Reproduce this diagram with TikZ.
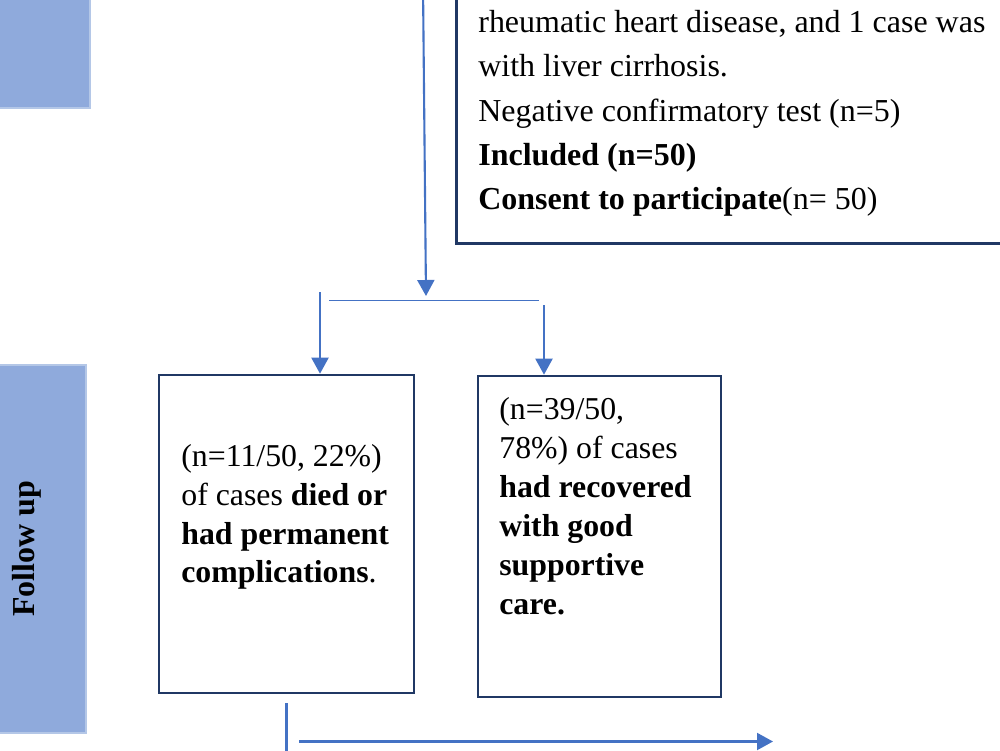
\documentclass[tikz,border=0pt]{standalone}
\usepackage{fontspec}
\setmainfont{Liberation Serif}
\usetikzlibrary{arrows.meta}
\definecolor{navy}{HTML}{203864}
\definecolor{flowblue}{HTML}{4472C4}
\definecolor{barfill}{HTML}{8FAADC}
\definecolor{baredge}{HTML}{B4C7E7}
\begin{document}
\begin{tikzpicture}[>={Triangle[width=0.34cm,length=0.32cm]},
        outbox/.style={draw=navy, line width=1.5pt, inner sep=0pt},
        stagebar/.style={fill=barfill, draw=baredge, line width=1.2pt},
        flow/.style={->, draw=flowblue, line width=1.2pt},
        joint/.style={draw=flowblue, line width=0.8pt},
        boxtxt/.style={anchor=north west, inner sep=0pt, align=left, font=\fontsize{18.1}{22.1}\selectfont}]
        \useasboundingbox (0,0) rectangle (20,-15);
        \clip (0,0) rectangle (20,-15);
        % stage bars on the left
        \node (stagetop) [stagebar, anchor=north east, minimum width=2.4cm, minimum height=2.8cm] at (1.82,0.66) {};
        \node (stagefup) [stagebar, rotate=90, minimum width=7.36cm, minimum height=2.36cm, font=\fontsize{18.2}{21}\selectfont\bfseries] at (0.54,-10.98) {Follow up};
        % boxes
        \node (incl) [outbox, anchor=south west, minimum width=12cm, minimum height=6cm] at (9.1,-4.9) {};
        \node (died) [outbox, minimum width=5.1cm, minimum height=6.36cm] at (5.73,-10.68) {};
        \node (rec) [outbox, minimum width=4.86cm, minimum height=6.42cm] at (11.99,-10.73) {};
        \node (incltxt) [boxtxt, font=\fontsize{18.2}{25.2}\selectfont] at (9.56,-0.2) {rheumatic heart disease, and 1 case was\\ with liver cirrhosis.\\ Negative confirmatory test (n=5)\\ \textbf{Included (n=50)}\\ \textbf{Consent to participate}(n= 50)};
        \node (diedtxt) [boxtxt] at (3.62,-8.88) {(n=11/50, 22\%)\\ of cases \textbf{died or}\\ \textbf{had permanent}\\ \textbf{complications}.};
        \node (rectxt) [boxtxt] at (9.98,-7.95) {(n=39/50,\\ 78\%) of cases\\ \textbf{had recovered}\\ \textbf{with good}\\ \textbf{supportive}\\ \textbf{care.}};
        % connectors
        \coordinate (topin) at (8.46,0.3); \coordinate (split) at (8.52,-5.92);
        \coordinate (jl) at (6.58,-6.01); \coordinate (jr) at (10.78,-6.01);
        \coordinate (la) at (6.4,-5.84); \coordinate (ra) at (10.88,-6.1);
        \draw[flow] (topin)--(split);
        \draw[joint] (jl)--(jr);
        \draw[flow] (la)--(died.north -| la);
        \draw[flow] (ra)--(rec.north -| ra);
        \coordinate (dn) at (5.73,-15.3); \coordinate (ol) at (5.98,-14.83); \coordinate (or) at (15.46,-14.83);
        \draw[joint, line width=1.2pt] ([yshift=-0.18cm]died.south)--(dn);
        \draw[flow] (ol)--(or);
\end{tikzpicture}
\end{document}
